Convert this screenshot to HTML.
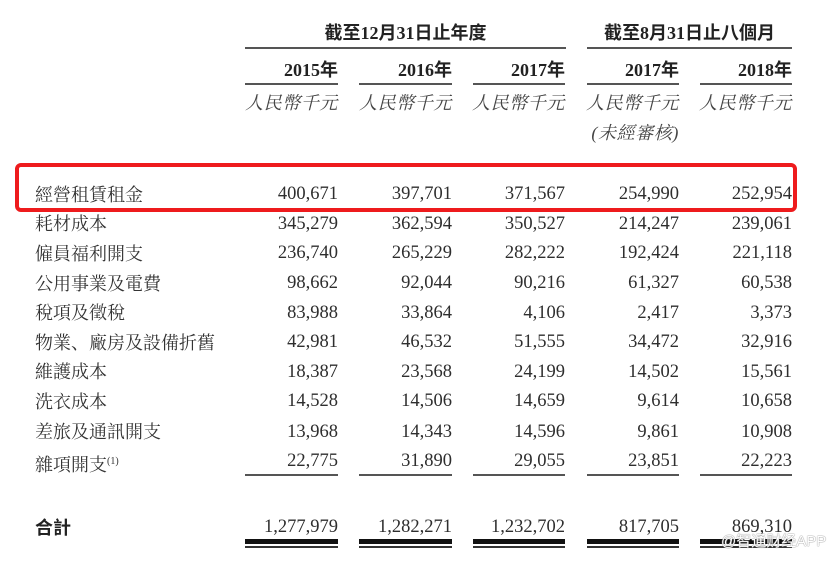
<!DOCTYPE html>
<html>
<head>
<meta charset="utf-8">
<style>
  html, body { margin:0; padding:0; background:#fff; }
  body { width:830px; height:563px; position:relative; overflow:hidden; }
  .a { position:absolute; white-space:nowrap; }
  .num { font-family:"Liberation Serif", serif; font-size:18.5px; line-height:20px; color:#2e2e2e; text-align:right; width:120px; margin-top:0.5px; }
  .lbl { font-family:"Liberation Serif","Noto Serif CJK SC", serif; font-size:18px; line-height:20px; color:#333; left:35px; margin-top:2px; }
  .ttl { font-family:"Liberation Serif","Noto Sans CJK SC", sans-serif; font-weight:bold; font-size:18px; line-height:20px; color:#222; text-align:center; }
  .yr { font-family:"Liberation Serif","Noto Sans CJK SC", serif; font-weight:bold; font-size:18px; line-height:20px; color:#222; text-align:right; width:120px; }
  .cur { font-family:"Liberation Serif","Noto Serif CJK SC", serif; font-style:italic; font-size:18px; letter-spacing:0.6px; line-height:20px; color:#444; text-align:right; width:120px; }
  .ln { position:absolute; background:#555; }
  .box { position:absolute; left:15px; top:163px; width:774px; height:41px; border:4px solid #ee1b1d; border-radius:6px; }
  sup { font-size:10px; vertical-align:7px; font-family:"Liberation Serif", serif; }
  .wm { position:absolute; left:721px; top:533px; font-family:"Liberation Sans","Noto Sans CJK SC", sans-serif; font-size:15px; line-height:18px; color:#fff; text-shadow:0 0 1px #888, 0 0 1px #888; }
</style>
</head>
<body>
<div class="box"></div>

<!-- header titles -->
<div class="a ttl" style="left:245px;width:321px;top:23px;">截至12月31日止年度</div>
<div class="a ttl" style="left:587px;width:205px;top:23px;">截至8月31日止八個月</div>
<div class="ln" style="left:245px;width:321px;top:47px;height:1.6px;"></div>
<div class="ln" style="left:587px;width:205px;top:47px;height:1.6px;"></div>

<!-- years -->
<div class="a yr" style="left:218px;top:60px;">2015年</div>
<div class="a yr" style="left:332px;top:60px;">2016年</div>
<div class="a yr" style="left:445px;top:60px;">2017年</div>
<div class="a yr" style="left:559px;top:60px;">2017年</div>
<div class="a yr" style="left:672px;top:60px;">2018年</div>
<div class="ln" style="left:245px;width:93px;top:83px;height:1.6px;"></div>
<div class="ln" style="left:359px;width:93px;top:83px;height:1.6px;"></div>
<div class="ln" style="left:473px;width:92px;top:83px;height:1.6px;"></div>
<div class="ln" style="left:587px;width:92px;top:83px;height:1.6px;"></div>
<div class="ln" style="left:700px;width:92px;top:83px;height:1.6px;"></div>

<!-- currency -->
<div class="a cur" style="left:218px;top:93px;">人民幣千元</div>
<div class="a cur" style="left:332px;top:93px;">人民幣千元</div>
<div class="a cur" style="left:445px;top:93px;">人民幣千元</div>
<div class="a cur" style="left:559px;top:93px;">人民幣千元</div>
<div class="a cur" style="left:672px;top:93px;">人民幣千元</div>
<div class="a cur" style="left:559px;top:123px;">(未經審核)</div>

<!-- rows -->
<div class="a lbl" style="top:182.5px;">經營租賃租金</div>
<div class="a num" style="left:218px;top:183.5px;">400,671</div>
<div class="a num" style="left:332px;top:183.5px;">397,701</div>
<div class="a num" style="left:445px;top:183.5px;">371,567</div>
<div class="a num" style="left:559px;top:183.5px;">254,990</div>
<div class="a num" style="left:672px;top:183.5px;">252,954</div>

<div class="a lbl" style="top:212px;">耗材成本</div>
<div class="a num" style="left:218px;top:213px;">345,279</div>
<div class="a num" style="left:332px;top:213px;">362,594</div>
<div class="a num" style="left:445px;top:213px;">350,527</div>
<div class="a num" style="left:559px;top:213px;">214,247</div>
<div class="a num" style="left:672px;top:213px;">239,061</div>

<div class="a lbl" style="top:241.5px;">僱員福利開支</div>
<div class="a num" style="left:218px;top:242.5px;">236,740</div>
<div class="a num" style="left:332px;top:242.5px;">265,229</div>
<div class="a num" style="left:445px;top:242.5px;">282,222</div>
<div class="a num" style="left:559px;top:242.5px;">192,424</div>
<div class="a num" style="left:672px;top:242.5px;">221,118</div>

<div class="a lbl" style="top:271.5px;">公用事業及電費</div>
<div class="a num" style="left:218px;top:272.5px;">98,662</div>
<div class="a num" style="left:332px;top:272.5px;">92,044</div>
<div class="a num" style="left:445px;top:272.5px;">90,216</div>
<div class="a num" style="left:559px;top:272.5px;">61,327</div>
<div class="a num" style="left:672px;top:272.5px;">60,538</div>

<div class="a lbl" style="top:301px;">稅項及徵稅</div>
<div class="a num" style="left:218px;top:302px;">83,988</div>
<div class="a num" style="left:332px;top:302px;">33,864</div>
<div class="a num" style="left:445px;top:302px;">4,106</div>
<div class="a num" style="left:559px;top:302px;">2,417</div>
<div class="a num" style="left:672px;top:302px;">3,373</div>

<div class="a lbl" style="top:330.5px;">物業、廠房及設備折舊</div>
<div class="a num" style="left:218px;top:331.5px;">42,981</div>
<div class="a num" style="left:332px;top:331.5px;">46,532</div>
<div class="a num" style="left:445px;top:331.5px;">51,555</div>
<div class="a num" style="left:559px;top:331.5px;">34,472</div>
<div class="a num" style="left:672px;top:331.5px;">32,916</div>

<div class="a lbl" style="top:360px;">維護成本</div>
<div class="a num" style="left:218px;top:361px;">18,387</div>
<div class="a num" style="left:332px;top:361px;">23,568</div>
<div class="a num" style="left:445px;top:361px;">24,199</div>
<div class="a num" style="left:559px;top:361px;">14,502</div>
<div class="a num" style="left:672px;top:361px;">15,561</div>

<div class="a lbl" style="top:389.5px;">洗衣成本</div>
<div class="a num" style="left:218px;top:390.5px;">14,528</div>
<div class="a num" style="left:332px;top:390.5px;">14,506</div>
<div class="a num" style="left:445px;top:390.5px;">14,659</div>
<div class="a num" style="left:559px;top:390.5px;">9,614</div>
<div class="a num" style="left:672px;top:390.5px;">10,658</div>

<div class="a lbl" style="top:420px;">差旅及通訊開支</div>
<div class="a num" style="left:218px;top:421px;">13,968</div>
<div class="a num" style="left:332px;top:421px;">14,343</div>
<div class="a num" style="left:445px;top:421px;">14,596</div>
<div class="a num" style="left:559px;top:421px;">9,861</div>
<div class="a num" style="left:672px;top:421px;">10,908</div>

<div class="a lbl" style="top:449.5px;">雜項開支<sup>(1)</sup></div>
<div class="a num" style="left:218px;top:450.5px;">22,775</div>
<div class="a num" style="left:332px;top:450.5px;">31,890</div>
<div class="a num" style="left:445px;top:450.5px;">29,055</div>
<div class="a num" style="left:559px;top:450.5px;">23,851</div>
<div class="a num" style="left:672px;top:450.5px;">22,223</div>

<div class="ln" style="left:245px;width:93px;top:474px;height:1.6px;"></div>
<div class="ln" style="left:359px;width:93px;top:474px;height:1.6px;"></div>
<div class="ln" style="left:473px;width:92px;top:474px;height:1.6px;"></div>
<div class="ln" style="left:587px;width:92px;top:474px;height:1.6px;"></div>
<div class="ln" style="left:700px;width:92px;top:474px;height:1.6px;"></div>

<!-- total -->
<div class="a lbl" style="top:515.5px;font-family:'Liberation Sans','Noto Sans CJK SC',sans-serif;font-weight:bold;color:#222;">合計</div>
<div class="a num" style="left:218px;top:516.5px;">1,277,979</div>
<div class="a num" style="left:332px;top:516.5px;">1,282,271</div>
<div class="a num" style="left:445px;top:516.5px;">1,232,702</div>
<div class="a num" style="left:559px;top:516.5px;">817,705</div>
<div class="a num" style="left:672px;top:516.5px;">869,310</div>

<div class="ln" style="left:245px;width:93px;top:539px;height:4.5px;background:#111;"></div>
<div class="ln" style="left:359px;width:93px;top:539px;height:4.5px;background:#111;"></div>
<div class="ln" style="left:473px;width:92px;top:539px;height:4.5px;background:#111;"></div>
<div class="ln" style="left:587px;width:92px;top:539px;height:4.5px;background:#111;"></div>
<div class="ln" style="left:700px;width:92px;top:539px;height:4.5px;background:#111;"></div>
<div class="ln" style="left:245px;width:93px;top:546px;height:1.6px;background:#333;"></div>
<div class="ln" style="left:359px;width:93px;top:546px;height:1.6px;background:#333;"></div>
<div class="ln" style="left:473px;width:92px;top:546px;height:1.6px;background:#333;"></div>
<div class="ln" style="left:587px;width:92px;top:546px;height:1.6px;background:#333;"></div>
<div class="ln" style="left:700px;width:92px;top:546px;height:1.6px;background:#333;"></div>

<div class="wm">@智通财经APP</div>
</body>
</html>
